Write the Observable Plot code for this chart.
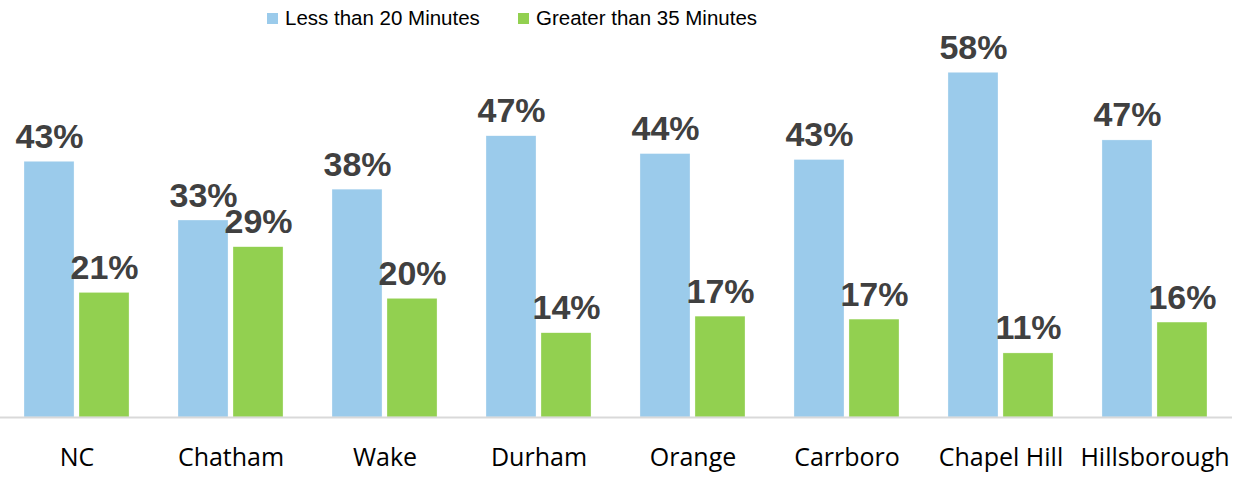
<!DOCTYPE html>
<html><head><meta charset="utf-8">
<script src="https://cdn.jsdelivr.net/npm/d3@7"></script>
<script src="https://cdn.jsdelivr.net/npm/@observablehq/plot@0.6"></script>
<style>
body{margin:0;background:#fff;}
#legend{position:relative;height:30px;font-family:"Liberation Sans",Arial,sans-serif;font-size:20.5px;color:#000;}
.item{position:absolute;top:7px;height:22px;display:flex;align-items:center;white-space:nowrap;}
.sw{width:11px;height:11px;margin-right:7px;flex:none;}
#chart svg{display:block;overflow:visible;}
</style></head><body>
<div id="legend"></div>
<div id="chart"></div>
<script>
const categories = ["NC","Chatham","Wake","Durham","Orange","Carrboro","Chapel Hill","Hillsborough"];
const series = ["Less than 20 Minutes","Greater than 35 Minutes"];
const lessThan20 = [43.1,33.2,38.4,47.4,44.4,43.4,58.1,46.7];
const greaterThan35 = [21.0,28.7,20.0,14.2,17.0,16.5,10.8,16.0];
const colors = ["#9BCBEB","#92D050"];

const lessData = categories.map((c,i)=>({category:c, series:series[0], value:lessThan20[i]}));
const greaterData = categories.map((c,i)=>({category:c, series:series[1], value:greaterThan35[i]}));

// legend
const legend = document.getElementById("legend");
const legendLeft = [267, 518];
series.forEach((s,i)=>{
  const it = document.createElement("div");
  it.className="item"; it.style.left = legendLeft[i]+"px";
  const sw = document.createElement("div"); sw.className="sw"; sw.style.background=colors[i];
  const tx = document.createElement("span"); tx.textContent = s;
  it.appendChild(sw); it.appendChild(tx); legend.appendChild(it);
});

const labelStyle = {fill: "#404040", fontSize: 34, fontWeight: "bold",
  fontFamily: "Liberation Sans, Arial, sans-serif", lineAnchor: "bottom", dy: -14};
const fmt = d => Math.round(d.value) + "%";

const chart = Plot.plot({
  width: 1238,
  height: 453,
  marginLeft: 24,
  marginRight: 31,
  marginTop: 31,
  marginBottom: 66,
  x: {domain: categories, paddingInner: 0.318, paddingOuter: 0, round: false, label: null},
  y: {domain: [0, 60], axis: null},
  color: {domain: series, range: colors},
  marks: [
    Plot.barY(lessData, {x: "category", y: "value", fill: "series", insetRight: 55, stroke: "white", strokeWidth: 0.5, strokeOpacity: 0.6}),
    Plot.barY(greaterData, {x: "category", y: "value", fill: "series", insetLeft: 55, stroke: "white", strokeWidth: 0.5, strokeOpacity: 0.6}),
    Plot.text(lessData, {x: "category", y: "value", text: fmt, dx: -27.5, ...labelStyle}),
    Plot.text(greaterData, {x: "category", y: "value", text: fmt, dx: 27.5, ...labelStyle}),
    Plot.ruleY([0], {stroke: "#d9d9d9", strokeWidth: 2, insetLeft: -24, insetRight: -25}),
    Plot.axisX({anchor: "bottom", tickSize: 0, tickPadding: 31, fontSize: 25, fill: "#000",
      fontFamily: "Open Sans, sans-serif", label: null})
  ]
});
document.getElementById("chart").appendChild(chart);
</script>
</body></html>
